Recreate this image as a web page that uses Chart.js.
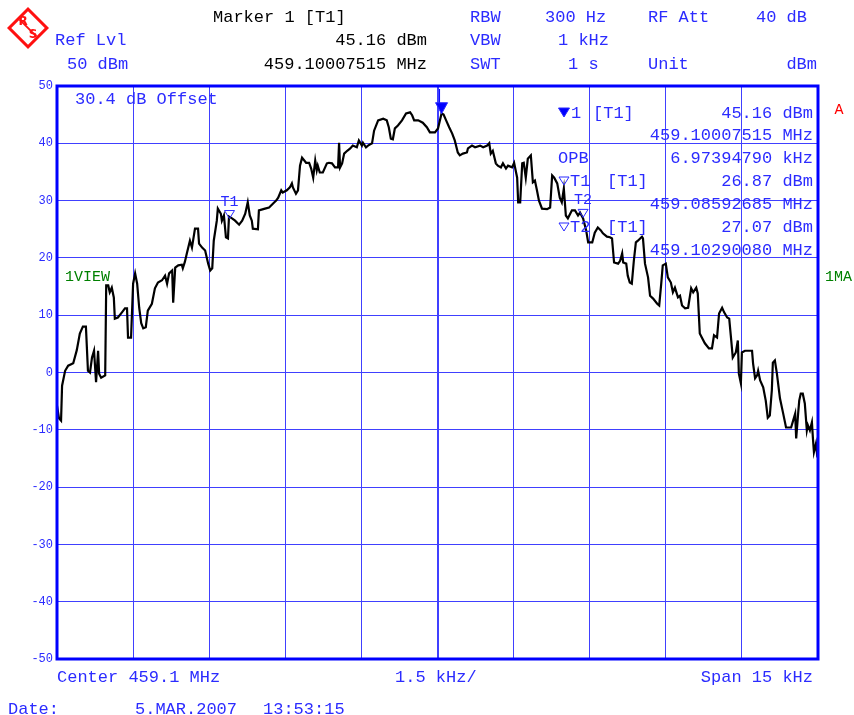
<!DOCTYPE html>
<html>
<head>
<meta charset="utf-8">
<script src="https://cdn.jsdelivr.net/npm/chart.js@4.4.1/dist/chart.umd.min.js"></script>
<style>
body{margin:0;background:#fff;}
canvas{display:block;}
</style>
</head>
<body>
<canvas id="spectre" width="854" height="715"></canvas>
<script>
// frequence relative au centre (kHz) et niveau (dBm)
const freqKHz = [
 -7.50,-7.46,-7.42,-7.40,-7.34,-7.28,-7.18,-7.11,-7.05,-6.99,-6.93,-6.89,-6.85,-6.81,-6.77,-6.73,-6.69,-6.67,-6.63,-6.55,
 -6.53,-6.49,-6.46,-6.42,-6.38,-6.36,-6.30,-6.22,-6.16,-6.12,-6.10,-6.04,-6.00,-5.96,-5.92,-5.88,-5.84,-5.80,-5.75,-5.71,
 -5.63,-5.57,-5.51,-5.43,-5.37,-5.33,-5.29,-5.23,-5.21,-5.17,-5.11,-5.04,-5.02,-4.98,-4.94,-4.88,-4.84,-4.78,-4.72,-4.70,
 -4.64,-4.58,-4.52,-4.48,-4.44,-4.41,-4.35,-4.33,-4.27,-4.25,-4.21,-4.17,-4.13,-4.11,-4.05,-3.99,-3.91,-3.85,-3.79,-3.74,
 -3.70,-3.66,-3.64,-3.54,-3.52,-3.40,-3.32,-3.24,-3.18,-3.14,-3.08,-3.05,-2.97,-2.91,-2.87,-2.85,-2.79,-2.75,-2.71,-2.67,
 -2.59,-2.53,-2.49,-2.45,-2.41,-2.38,-2.36,-2.32,-2.26,-2.18,-2.14,-2.08,-2.02,-1.96,-1.94,-1.92,-1.88,-1.84,-1.78,-1.72,
 -1.67,-1.59,-1.55,-1.49,-1.47,-1.41,-1.37,-1.29,-1.25,-1.17,-1.07,-1.00,-0.96,-0.92,-0.88,-0.84,-0.78,-0.70,-0.62,-0.54,
 -0.50,-0.46,-0.38,-0.29,-0.21,-0.15,-0.05,0.01,0.08,0.12,0.17,0.23,0.29,0.34,0.40,0.44,0.50,0.58,0.60,0.68,
 0.74,0.84,0.90,0.98,1.02,1.05,1.09,1.15,1.19,1.25,1.29,1.35,1.39,1.47,1.51,1.57,1.59,1.63,1.67,1.70,
 1.74,1.78,1.84,1.88,1.92,1.96,2.00,2.06,2.16,2.22,2.26,2.30,2.36,2.41,2.45,2.49,2.53,2.57,2.65,2.71,
 2.77,2.81,2.87,2.93,2.97,3.05,3.10,3.16,3.22,3.26,3.34,3.40,3.44,3.48,3.56,3.60,3.64,3.66,3.72,3.75,
 3.79,3.83,3.87,3.91,3.95,4.03,4.05,4.09,4.15,4.19,4.25,4.33,4.37,4.41,4.44,4.50,4.54,4.60,4.64,4.68,
 4.74,4.78,4.82,4.88,4.94,5.00,5.04,5.10,5.13,5.17,5.21,5.27,5.35,5.41,5.45,5.51,5.55,5.61,5.65,5.71,
 5.75,5.79,5.82,5.88,5.92,5.94,5.98,6.00,6.06,6.14,6.20,6.22,6.26,6.30,6.32,6.36,6.42,6.47,6.51,6.55,
 6.59,6.61,6.65,6.69,6.75,6.81,6.87,6.91,6.97,7.01,7.05,7.07,7.11,7.13,7.16,7.20,7.24,7.28,7.30,7.34,
 7.38,7.40,7.42,7.46,7.48,7.50
];
const niveauDbm = [
 -5.8,-8.0,-8.4,-2.3,0.3,1.2,1.6,3.9,6.8,8.0,8.0,0.3,0.0,2.6,3.8,-1.7,3.8,-0.2,-0.9,-0.5,
 15.2,15.2,14.0,14.8,13.1,9.4,9.6,10.5,11.2,11.2,6.1,6.1,15.5,17.3,15.5,11.3,8.6,7.7,7.9,10.8,
 12.0,14.7,15.7,16.1,16.9,15.5,17.3,17.8,12.2,18.3,18.7,18.8,18.2,19.3,20.8,23.0,21.8,25.1,25.1,22.5,
 21.8,21.3,19.0,17.8,18.2,23.0,26.5,28.6,27.7,26.5,27.4,23.6,23.4,27.2,26.9,26.5,25.8,26.5,27.7,29.7,
 27.4,26.5,25.1,25.0,28.3,28.6,28.8,29.5,30.0,30.5,31.8,31.4,31.8,32.3,33.0,32.3,31.2,31.8,36.1,37.5,
 36.6,36.6,35.6,34.0,37.0,35.3,36.1,34.9,34.9,36.5,36.6,36.5,35.8,35.8,40.1,35.8,36.5,38.2,38.7,39.1,
 39.6,39.3,40.5,39.6,40.1,39.3,39.6,40.0,42.2,44.0,44.3,44.0,42.8,40.8,40.7,42.6,43.1,44.0,45.2,45.4,
 44.9,44.0,44.0,43.6,42.8,41.9,41.9,42.6,45.2,45.0,44.0,42.8,41.7,40.5,38.4,37.9,38.2,38.4,39.1,39.6,
 39.3,39.6,39.3,39.6,40.0,38.2,38.7,36.5,36.1,35.8,36.5,35.6,36.1,35.8,36.6,34.0,29.7,29.7,36.5,36.6,
 34.0,37.3,37.9,33.2,33.5,31.8,30.0,28.6,28.5,28.8,34.4,34.0,33.0,30.5,29.7,32.1,27.4,26.9,28.3,28.3,
 27.4,27.9,26.9,24.8,22.7,22.7,24.4,25.3,24.8,24.3,23.7,23.6,23.4,19.2,19.0,19.5,20.8,19.2,19.0,16.9,
 15.7,15.5,19.5,22.7,23.0,23.7,23.4,19.0,16.6,13.4,12.9,12.0,11.7,15.5,18.7,19.0,16.6,15.7,14.0,14.8,
 13.1,13.4,11.7,11.2,11.3,14.7,14.0,14.8,13.8,6.8,6.1,5.1,4.2,4.2,6.5,6.1,10.3,11.3,10.5,9.6,
 9.4,5.6,2.6,3.5,5.6,-0.2,-1.9,3.5,3.8,3.8,3.8,1.6,-1.0,-0.5,0.3,-1.4,-2.6,-4.9,-7.9,-7.5,
 -3.1,1.7,2.1,-0.2,-4.5,-7.0,-9.6,-9.6,-9.6,-8.4,-7.2,-11.5,-7.0,-4.9,-3.7,-3.7,-5.4,-10.1,-9.2,-10.1,
 -8.7,-11.5,-13.9,-12.4,-14.1,-13.6
];

// marqueurs (kHz, dBm)
const marqueurNoms = ["1", "T1", "T2"];
const marqueurFreq = [0.08, -4.10, 2.87];
const marqueurNiveau = [45.16, 26.87, 27.07];

const niveauTicks = [50, 40, 30, 20, 10, 0, -10, -20, -30, -40, -50];

const BLEU = '#2b2bff';
const GRILLE = '#4040ff';
const POLICE = '"Liberation Mono", "DejaVu Sans Mono", monospace';

function texte(ctx, t, x, y, couleur, align, taille){
	ctx.fillStyle = couleur;
	ctx.textAlign = align || 'left';
	ctx.textBaseline = 'middle';
	ctx.font = (taille || 17) + 'px ' + POLICE;
	ctx.fillText(t, x, y);
}

function triangle(ctx, x, yPointe, l, h, plein){
	ctx.beginPath();
	ctx.moveTo(x - l/2, yPointe - h);
	ctx.lineTo(x + l/2, yPointe - h);
	ctx.lineTo(x, yPointe);
	ctx.closePath();
	ctx.strokeStyle = BLEU;
	ctx.lineWidth = 1;
	if(plein){ ctx.fillStyle = '#0000ff'; ctx.fill(); }
	ctx.stroke();
}

function logoRS(ctx){
	const cx = 28, cy = 28, r = 21;
	ctx.save();
	ctx.translate(cx, cy);
	ctx.rotate(Math.PI/4);
	ctx.fillStyle = '#ff1010';
	ctx.fillRect(-r/1.414, -r/1.414, 2*r/1.414, 2*r/1.414);
	ctx.fillStyle = '#fff';
	ctx.fillRect(-r/1.414+3, -r/1.414+3, 2*r/1.414-6, 2*r/1.414-6);
	ctx.strokeStyle = '#ff1010';
	ctx.lineWidth = 2;
	ctx.beginPath(); ctx.moveTo(-r/1.414+3, 0); ctx.lineTo(r/1.414-3, 0); ctx.stroke();
	ctx.restore();
	ctx.fillStyle = '#ff1010';
	ctx.font = 'bold 12px "DejaVu Sans"';
	ctx.textAlign = 'center'; ctx.textBaseline = 'middle';
	ctx.fillText('R', 23, 22);
	ctx.fillText('S', 33, 35);
}

const pluginDecor = {
	id: 'decor',
	beforeDraw(chart){
		const ctx = chart.ctx;
		ctx.save();
		ctx.fillStyle = '#fff';
		ctx.fillRect(0, 0, chart.width, chart.height);
		ctx.restore();
	},
	afterDatasetsDraw(chart){
		const ctx = chart.ctx, a = chart.chartArea;
		const sx = chart.scales.x, sy = chart.scales.y;
		ctx.save();
		// cadre
		ctx.strokeStyle = '#0000ff';
		ctx.lineWidth = 3;
		ctx.strokeRect(a.left, a.top, a.right - a.left, a.bottom - a.top);

		// marqueurs sur la trace
		for(let i = 0; i < marqueurNoms.length; i++){
			const px = sx.getPixelForValue(marqueurFreq[i]);
			const py = sy.getPixelForValue(marqueurNiveau[i]);
			if(i == 0){
				triangle(ctx, px, py, 12, 11, true);
				ctx.strokeStyle = '#0000ff'; ctx.lineWidth = 1;
				ctx.beginPath(); ctx.moveTo(px - 2, a.top + 3); ctx.lineTo(px - 2, py - 11); ctx.stroke();
			} else {
				triangle(ctx, px, py, 10, 8, false);
				texte(ctx, marqueurNoms[i], px, py - 17, BLEU, 'center', 15);
			}
		}
		ctx.restore();
	},
	afterDraw(chart){
		const ctx = chart.ctx;
		ctx.save();
		logoRS(ctx);

		// entete
		texte(ctx, 'Marker 1 [T1]', 213, 17, '#000');
		texte(ctx, 'RBW', 470, 17, BLEU);
		texte(ctx, '300 Hz', 545, 17, BLEU);
		texte(ctx, 'RF Att', 648, 17, BLEU);
		texte(ctx, '40 dB', 807, 17, BLEU, 'right');

		texte(ctx, 'Ref Lvl', 55, 40, BLEU);
		texte(ctx, '45.16 dBm', 427, 40, '#000', 'right');
		texte(ctx, 'VBW', 470, 40, BLEU);
		texte(ctx, '1 kHz', 609, 40, BLEU, 'right');

		texte(ctx, '50 dBm', 67, 64, BLEU);
		texte(ctx, '459.10007515 MHz', 427, 64, '#000', 'right');
		texte(ctx, 'SWT', 470, 64, BLEU);
		texte(ctx, '1 s', 568, 64, BLEU);
		texte(ctx, 'Unit', 648, 64, BLEU);
		texte(ctx, 'dBm', 817, 64, BLEU, 'right');

		texte(ctx, '30.4 dB Offset', 75, 99, BLEU);

		// bloc des marqueurs
		triangle(ctx, 564, 117, 11, 9, true);
		texte(ctx, '1', 571, 113, BLEU);
		texte(ctx, '[T1]', 593, 113, BLEU);
		texte(ctx, '45.16 dBm', 813, 113, BLEU, 'right');
		texte(ctx, '459.10007515 MHz', 813, 135, BLEU, 'right');
		texte(ctx, 'OPB', 558, 158, BLEU);
		texte(ctx, '6.97394790 kHz', 813, 158, BLEU, 'right');
		triangle(ctx, 564, 185, 10, 8, false);
		texte(ctx, 'T1', 570, 181, BLEU);
		texte(ctx, '[T1]', 607, 181, BLEU);
		texte(ctx, '26.87 dBm', 813, 181, BLEU, 'right');
		texte(ctx, '459.08592685 MHz', 813, 204, BLEU, 'right');
		triangle(ctx, 564, 231, 10, 8, false);
		texte(ctx, 'T2', 570, 227, BLEU);
		texte(ctx, '[T1]', 607, 227, BLEU);
		texte(ctx, '27.07 dBm', 813, 227, BLEU, 'right');
		texte(ctx, '459.10290080 MHz', 813, 250, BLEU, 'right');

		texte(ctx, 'A', 839, 110, '#ff0000', 'center', 15);
		texte(ctx, '1VIEW', 65, 277, '#008000', 'left', 15);
		texte(ctx, '1MA', 825, 277, '#008000', 'left', 15);

		// pied
		texte(ctx, 'Center 459.1 MHz', 57, 677, BLEU);
		texte(ctx, '1.5 kHz/', 395, 677, BLEU);
		texte(ctx, 'Span 15 kHz', 813, 677, BLEU, 'right');
		texte(ctx, 'Date:', 8, 709, BLEU);
		texte(ctx, '5.MAR.2007', 135, 709, BLEU);
		texte(ctx, '13:53:15', 263, 709, BLEU);
		ctx.restore();
	}
};

const points = freqKHz.map(function(f, i){ return {x: f, y: niveauDbm[i]}; });

new Chart(document.getElementById('spectre'), {
	type: 'line',
	data: {
		datasets: [{
			data: points,
			borderColor: '#000',
			borderWidth: 2.2,
			pointRadius: 0,
			tension: 0,
			fill: false
		}]
	},
	options: {
		responsive: false,
		animation: false,
		layout: { padding: { top: 86, right: 36, bottom: 0, left: 0 } },
		plugins: { legend: { display: false }, tooltip: { enabled: false } },
		scales: {
			x: {
				type: 'linear',
				min: -7.5, max: 7.5,
				ticks: { display: false, stepSize: 1.5 },
				grid: {
					color: GRILLE,
					drawTicks: false,
					lineWidth: function(c){ return (c.tick && Math.abs(c.tick.value) < 0.01) ? 2 : 1; }
				},
				border: { display: false },
				afterFit: function(s){ s.height = 56; }
			},
			y: {
				min: -50, max: 50,
				afterBuildTicks: function(s){ s.ticks = niveauTicks.map(function(v){ return {value: v}; }); },
				ticks: {
					color: BLEU,
					padding: 4,
					font: { family: POLICE, size: 12 },
					callback: function(v){ return String(v); }
				},
				grid: { color: GRILLE, drawTicks: false },
				border: { display: false },
				afterFit: function(s){ s.width = 57; }
			}
		}
	},
	plugins: [pluginDecor]
});
</script>
</body>
</html>
